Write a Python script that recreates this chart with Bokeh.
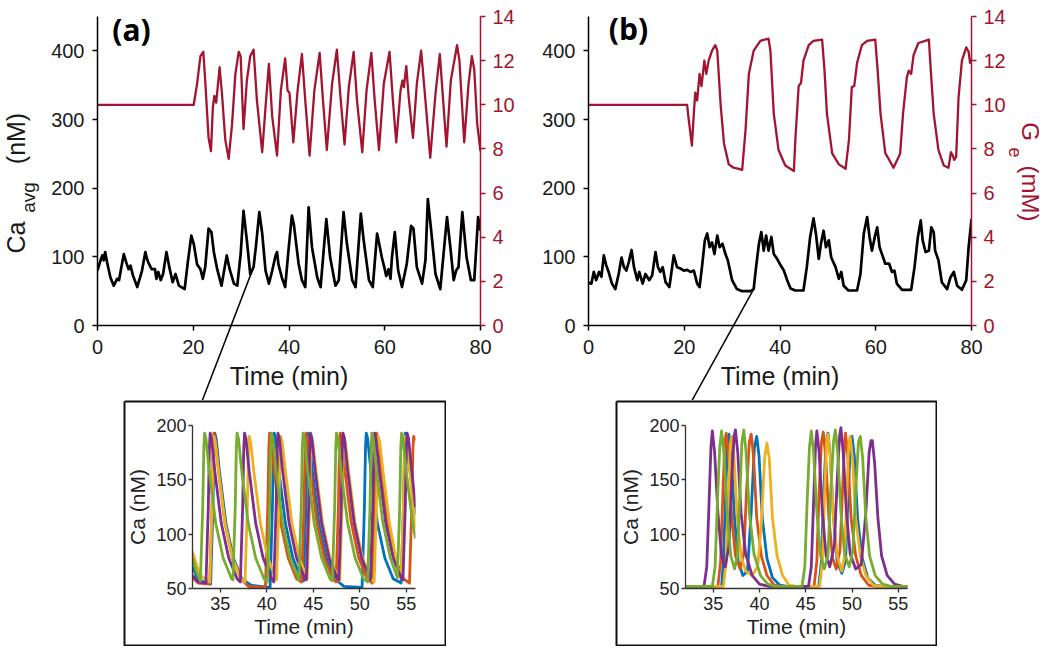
import math
from bokeh.plotting import figure
from bokeh.models import Range1d, LinearAxis, Spacer
from bokeh.core.properties import value
from bokeh.layouts import row, column
from bokeh.embed import file_html
from bokeh.resources import INLINE

FONT = "Liberation Sans"
RED = "#A2142F"
INK = "#1a1a1a"
SERIES_COLORS = ["#0072BD", "#D95319", "#EDB120", "#7E2F8E", "#77AC30"]

TIME_TICKS = [0, 20, 40, 60, 80]
CA_TICKS = [0, 100, 200, 300, 400]
GE_TICKS = [0, 2, 4, 6, 8, 10, 12, 14]
INSET_T_TICKS = [35, 40, 45, 50, 55]
INSET_CA_TICKS = [50, 100, 150, 200]

# ---------------- panel (a): average Ca (nM) vs time (min) ----------------
A_CA = [(0.0, 80), (0.5, 92), (1.0, 102), (1.3, 95), (1.6, 107), (2.0, 92), (2.7, 70), (3.4, 58),
        (4.1, 68), (4.5, 66), (4.8, 78), (5.5, 104), (6.0, 92), (6.5, 82), (6.9, 87), (7.4, 73),
        (8.3, 56), (9.3, 80), (10.0, 107), (10.3, 98), (10.6, 92), (11.3, 82), (12.0, 82), (12.3, 68),
        (12.7, 78), (13.2, 66), (13.7, 75), (14.4, 107), (15.0, 85), (15.7, 63), (16.3, 75), (17.0, 58),
        (18.2, 53), (18.9, 94), (19.6, 131), (20.1, 119), (20.8, 89), (21.5, 82), (22.0, 68), (22.5, 85),
        (23.2, 141), (23.8, 136), (24.3, 107), (25.0, 82), (25.9, 58), (27.0, 102), (27.6, 82), (28.5, 61),
        (29.2, 58), (29.9, 104), (30.5, 167), (31.2, 124), (31.9, 75), (32.6, 85), (33.1, 116), (33.8, 165),
        (34.4, 134), (35.1, 80), (35.8, 61), (36.5, 80), (37.2, 102), (37.5, 107), (37.8, 89), (38.5, 70),
        (39.2, 56), (39.9, 110), (40.6, 160), (41.0, 148), (42.0, 90), (42.7, 66), (43.4, 56), (44.1, 172),
        (44.8, 114), (45.9, 70), (46.6, 56), (47.3, 114), (47.8, 155), (48.6, 99), (49.7, 58), (50.4, 66),
        (51.4, 165), (52.1, 119), (53.2, 66), (53.9, 56), (55.0, 163), (55.6, 124), (56.7, 66), (57.5, 56),
        (58.4, 134), (58.9, 117), (59.4, 99), (60.0, 82), (60.3, 72), (60.8, 82), (61.2, 68), (61.5, 99),
        (62.1, 136), (62.8, 80), (63.6, 56), (64.6, 90), (65.5, 145), (66.0, 141), (66.7, 85), (67.8, 61),
        (68.5, 95), (69.0, 184), (69.7, 138), (70.6, 75), (71.6, 53), (73.0, 158), (73.7, 114), (74.4, 66),
        (74.9, 80), (75.4, 85), (76.2, 165), (77.1, 99), (78.0, 66), (78.7, 66), (79.5, 158), (80.0, 138)]

# panel (a): extracellular glucose G_e (mM) vs time (min)
A_GE = [(0, 10.0), (20.1, 10.0), (20.8, 10.95), (21.5, 12.2), (22.1, 12.4), (22.5, 11.1), (23.2, 8.5),
        (23.7, 7.9), (24.1, 9.9), (24.4, 10.4), (24.8, 10.1), (25.5, 11.7), (26.0, 10.5), (26.7, 8.4),
        (27.4, 7.55), (28.1, 9.1), (28.8, 11.4), (29.5, 12.4), (29.9, 12.2), (30.5, 8.9), (31.2, 11.1),
        (31.9, 12.2), (32.6, 12.5), (33.3, 10.2), (34.4, 7.85), (35.1, 9.9), (35.8, 11.85), (36.5, 9.45),
        (37.5, 7.7), (38.3, 10.65), (39.2, 12.1), (39.7, 10.65), (40.1, 10.55), (40.9, 8.3), (41.8, 10.65),
        (42.7, 12.3), (43.4, 10.2), (44.3, 7.7), (45.3, 10.65), (46.4, 12.35), (47.1, 10.2), (47.9, 7.95),
        (49.0, 10.95), (50.0, 12.5), (50.7, 10.5), (51.6, 8.2), (52.5, 10.8), (53.5, 12.4), (54.2, 10.2),
        (55.3, 7.85), (56.2, 10.65), (57.2, 12.35), (57.9, 10.2), (58.8, 7.95), (59.8, 10.95), (61.0, 12.4),
        (61.7, 10.2), (62.4, 8.3), (63.3, 10.65), (63.7, 11.1), (64.0, 10.8), (64.5, 11.75), (65.0, 10.35),
        (65.9, 8.5), (66.7, 10.95), (67.6, 12.45), (68.5, 10.2), (69.5, 7.6), (70.6, 10.5), (71.5, 12.3),
        (72.2, 10.2), (72.9, 8.1), (73.8, 11.1), (75.1, 12.7), (75.6, 12.0), (76.6, 8.3), (77.5, 10.95),
        (78.2, 12.2), (78.7, 11.6), (79.3, 9.15), (80.0, 7.9)]

# ---------------- panel (b) ----------------
B_CA = [(0.0, 62), (0.6, 61), (1.1, 78), (1.6, 66), (2.2, 78), (2.7, 71), (3.2, 102), (3.7, 88), (4.2, 78),
        (4.9, 61), (5.6, 53), (6.3, 75), (6.9, 99), (7.4, 85), (7.9, 80), (8.4, 92), (9.0, 110), (9.5, 85),
        (10.2, 66), (10.6, 78), (11.3, 61), (11.9, 75), (12.7, 66), (13.3, 73), (14.0, 107), (14.5, 85),
        (15.0, 78), (15.5, 85), (16.1, 63), (16.9, 56), (17.8, 102), (18.5, 85), (19.2, 83), (19.9, 80),
        (20.6, 81), (21.3, 78), (22.0, 80), (22.7, 61), (23.2, 56), (23.7, 85), (24.3, 124), (24.8, 134),
        (25.3, 114), (25.8, 121), (26.3, 104), (26.9, 131), (27.4, 114), (28.0, 119), (28.6, 104), (29.1, 95),
        (30.0, 66), (31.0, 53), (32.1, 50), (33.8, 50), (34.5, 53), (35.0, 85), (35.6, 119), (36.1, 136),
        (36.6, 109), (37.1, 131), (37.6, 109), (38.2, 129), (38.7, 104), (39.4, 97), (40.1, 88), (40.8, 80),
        (41.5, 66), (42.2, 54), (43.2, 51), (44.9, 51), (45.6, 85), (46.3, 129), (47.0, 156), (47.5, 134),
        (48.1, 97), (48.6, 121), (49.1, 138), (49.6, 114), (50.2, 124), (50.7, 99), (51.6, 85), (52.3, 68),
        (52.8, 78), (53.3, 58), (54.3, 51), (56.1, 51), (56.8, 75), (57.5, 134), (58.2, 158), (58.7, 129),
        (59.2, 109), (59.8, 129), (60.3, 143), (60.8, 114), (61.3, 104), (62.0, 90), (62.8, 90), (63.4, 78),
        (63.9, 80), (64.4, 61), (65.5, 52), (67.4, 52), (68.1, 85), (68.8, 129), (69.4, 153), (69.8, 124),
        (70.4, 107), (71.1, 109), (71.6, 143), (72.1, 136), (72.4, 109), (73.1, 95), (73.8, 63), (74.9, 53),
        (75.6, 70), (76.3, 78), (77.0, 58), (78.0, 52), (78.9, 66), (79.4, 114), (80.0, 155)]

B_GE = [(0, 10.0), (20.6, 10.0), (20.9, 9.4), (21.6, 8.15), (22.0, 9.6), (22.3, 10.55), (22.7, 10.2),
        (23.2, 11.4), (23.6, 10.85), (24.2, 12.0), (24.6, 11.4), (25.1, 12.0), (25.8, 12.45), (26.5, 12.7),
        (26.9, 12.45), (27.6, 10.0), (28.3, 8.25), (29.3, 7.3), (30.3, 7.15), (31.4, 7.1), (32.1, 7.05),
        (32.8, 8.85), (33.5, 11.4), (34.5, 12.45), (35.9, 12.9), (37.6, 13.0), (38.0, 12.45), (38.7, 9.6),
        (39.7, 7.95), (41.1, 7.25), (42.9, 7.0), (43.2, 8.4), (43.9, 10.85), (44.4, 11.0), (44.9, 12.0),
        (46.0, 12.7), (47.0, 12.9), (48.8, 12.95), (49.3, 11.55), (49.8, 9.6), (50.9, 7.8), (51.6, 7.55),
        (52.3, 7.3), (53.7, 7.1), (54.4, 8.4), (55.0, 10.8), (55.5, 10.85), (56.1, 11.9), (57.1, 12.7),
        (58.2, 12.9), (59.9, 12.95), (60.4, 11.55), (61.0, 9.6), (62.0, 7.8), (62.7, 7.55), (63.7, 7.15),
        (64.6, 7.55), (65.1, 7.8), (65.7, 9.6), (66.5, 11.25), (66.9, 11.55), (67.4, 11.4), (67.9, 12.25),
        (68.9, 12.8), (71.1, 12.95), (71.5, 11.55), (72.1, 9.6), (73.1, 7.95), (74.2, 7.25), (75.2, 7.15),
        (75.7, 7.85), (76.1, 7.7), (76.4, 7.5), (76.8, 7.65), (77.3, 10.35), (78.0, 12.0), (78.9, 12.6),
        (79.4, 12.4), (79.7, 11.9), (80.0, 12.1)]

# ---------------- inset (a): single-cell Ca (nM), five cells ----------------
IA_BLUE = [(32.0, 70), (32.6, 58), (33.95, 54), (34.2, 125), (34.32, 180), (34.4, 193), (34.55, 188), (34.9, 158),
           (35.6, 110), (36.4, 78), (37.3, 59), (38.3, 53), (40.35, 51), (40.6, 125), (40.72, 180), (40.8, 193),
           (40.95, 188), (41.3, 158), (42.0, 110), (42.8, 78), (43.7, 59), (43.95, 57), (44.2, 125), (44.32, 180),
           (44.4, 193), (44.55, 188), (44.9, 158), (45.6, 110), (46.4, 78), (47.3, 59), (48.3, 52), (50.25, 51),
           (50.5, 125), (50.62, 180), (50.7, 193), (50.85, 188), (51.2, 158), (51.9, 110), (52.7, 78), (53.6, 59),
           (54.45, 55), (54.7, 125), (54.82, 180), (54.9, 193), (55.05, 188), (55.4, 158), (56.0, 118)]
IA_ORANGE = [(32.0, 60), (32.6, 55), (33.85, 54), (34.1, 125), (34.22, 180), (34.3, 193), (34.45, 188), (34.8, 158),
             (35.5, 110), (36.3, 78), (37.2, 59), (38.0, 52), (39.85, 51), (40.1, 125), (40.22, 180), (40.3, 193),
             (40.45, 188), (40.8, 158), (41.5, 110), (42.3, 78), (43.2, 59), (43.75, 56), (44.0, 125), (44.12, 180),
             (44.2, 193), (44.35, 188), (44.7, 158), (45.4, 110), (46.2, 78), (47.1, 59), (47.45, 56), (47.7, 125),
             (47.82, 180), (47.9, 193), (48.05, 188), (48.4, 158), (49.1, 110), (49.9, 78), (50.8, 59), (51.35, 55),
             (51.6, 125), (51.72, 180), (51.8, 193), (51.95, 188), (52.3, 158), (53.0, 110), (53.8, 78), (54.7, 59),
             (55.35, 55), (55.6, 125), (55.72, 178), (55.8, 190), (55.95, 188), (56.0, 186)]
IA_YELLOW = [(32.0, 84), (32.5, 70), (33.0, 61), (33.85, 56), (34.1, 125), (34.22, 178), (34.3, 190), (34.45, 185),
             (34.8, 158), (35.5, 110), (36.3, 78), (37.2, 59), (37.65, 56), (37.9, 125), (38.02, 178), (38.1, 190),
             (38.25, 185), (38.6, 158), (39.3, 110), (40.1, 78), (41.0, 59), (41.05, 58), (41.3, 125), (41.42, 178),
             (41.5, 190), (41.65, 185), (42.0, 158), (42.7, 110), (43.5, 78), (44.35, 59), (44.6, 125), (44.72, 178),
             (44.8, 190), (44.95, 185), (45.3, 158), (46.0, 110), (46.8, 78), (47.7, 59), (47.85, 57), (48.1, 125),
             (48.22, 178), (48.3, 190), (48.45, 185), (48.8, 158), (49.5, 110), (50.3, 78), (51.2, 59), (51.55, 56),
             (51.8, 125), (51.92, 178), (52.0, 190), (52.15, 185), (52.5, 158), (53.2, 110), (54.0, 72), (54.45, 59),
             (54.7, 125), (54.82, 178), (54.9, 190), (55.05, 185), (55.4, 158), (56.0, 105)]
IA_PURPLE = [(32.0, 62), (32.6, 56), (33.45, 55), (33.7, 125), (33.82, 180), (33.9, 193), (34.05, 188), (34.4, 158),
             (35.1, 110), (35.9, 78), (36.8, 59), (37.15, 56), (37.4, 125), (37.52, 180), (37.6, 193), (37.75, 188),
             (38.1, 158), (38.8, 110), (39.6, 78), (40.5, 59), (40.75, 56), (41.0, 125), (41.12, 180), (41.2, 193),
             (41.35, 188), (41.7, 158), (42.4, 110), (43.2, 78), (44.1, 59), (44.25, 58), (44.5, 125), (44.62, 180),
             (44.7, 193), (44.85, 188), (45.2, 158), (45.9, 110), (46.7, 78), (47.6, 59), (47.75, 58), (48.0, 125),
             (48.12, 180), (48.2, 193), (48.35, 188), (48.7, 158), (49.4, 110), (50.2, 78), (51.1, 59), (51.15, 58),
             (51.4, 125), (51.52, 180), (51.6, 193), (51.75, 188), (52.1, 158), (52.8, 110), (53.6, 78), (54.5, 59),
             (54.65, 58), (54.9, 125), (55.02, 180), (55.1, 193), (55.25, 188), (55.6, 158), (56.0, 125)]
IA_GREEN = [(32.0, 78), (32.4, 66), (32.85, 57), (33.1, 125), (33.22, 180), (33.3, 193), (33.45, 188), (33.8, 158),
            (34.5, 110), (35.3, 78), (36.2, 59), (36.35, 58), (36.6, 125), (36.72, 180), (36.8, 193), (36.95, 188),
            (37.3, 158), (38.0, 110), (38.8, 78), (39.7, 59), (40.05, 56), (40.3, 125), (40.42, 180), (40.5, 193),
            (40.65, 188), (41.0, 158), (41.7, 110), (42.5, 78), (43.4, 59), (43.45, 58), (43.7, 125), (43.82, 180),
            (43.9, 193), (44.05, 188), (44.4, 158), (45.1, 110), (45.9, 78), (46.8, 59), (47.05, 57), (47.3, 125),
            (47.42, 180), (47.5, 193), (47.65, 188), (48.0, 158), (48.7, 110), (49.5, 78), (50.4, 59), (50.85, 56),
            (51.1, 125), (51.22, 180), (51.3, 193), (51.45, 188), (51.8, 158), (52.5, 110), (53.3, 78), (54.05, 60),
            (54.3, 125), (54.42, 180), (54.5, 193), (54.65, 188), (55.0, 158), (55.7, 110), (56.0, 96)]

# ---------------- inset (b) ----------------
IB_BLUE = [(32.0, 52), (35.9, 52), (36.1, 75), (36.35, 140), (36.55, 185), (36.7, 192), (36.95, 172), (37.3, 115),
           (37.7, 75), (38.2, 62), (38.7, 66), (39.1, 120), (39.45, 180), (39.7, 190), (39.95, 172), (40.3, 115),
           (40.8, 78), (41.4, 60), (42.2, 53), (43.0, 52), (46.4, 52), (46.7, 75), (46.95, 140), (47.2, 185),
           (47.4, 193), (47.65, 172), (48.0, 115), (48.4, 75), (48.9, 64), (49.3, 75), (49.6, 140), (49.85, 185),
           (50.0, 190), (50.25, 172), (50.6, 115), (51.1, 78), (51.7, 60), (52.5, 53), (53.3, 52), (56.0, 52)]
IB_ORANGE = [(32.0, 52), (35.5, 52), (35.8, 75), (36.05, 140), (36.25, 185), (36.4, 193), (36.65, 172), (37.0, 115),
             (37.4, 80), (37.9, 68), (38.3, 82), (38.6, 140), (38.9, 185), (39.1, 192), (39.35, 172), (39.7, 115),
             (40.2, 80), (40.8, 62), (41.6, 53), (42.4, 52), (45.9, 52), (46.2, 75), (46.45, 140), (46.7, 185),
             (46.9, 194), (47.15, 172), (47.5, 115), (47.9, 78), (48.3, 68), (48.7, 85), (49.0, 145), (49.2, 185),
             (49.3, 193), (49.55, 172), (49.9, 115), (50.4, 80), (51.0, 62), (51.8, 53), (52.7, 52), (56.0, 52)]
IB_YELLOW = [(32.0, 52), (36.1, 52), (36.4, 75), (36.65, 140), (36.85, 183), (37.0, 190), (37.25, 170), (37.6, 115),
             (38.0, 80), (38.5, 66), (39.2, 62), (39.8, 70), (40.2, 110), (40.55, 170), (40.8, 184), (41.05, 170),
             (41.4, 115), (41.9, 80), (42.5, 62), (43.2, 53), (44.0, 52), (46.5, 52), (46.8, 75), (47.05, 140),
             (47.25, 185), (47.4, 192), (47.65, 170), (48.0, 115), (48.4, 80), (48.9, 66), (49.2, 80), (49.45, 140),
             (49.65, 183), (49.8, 190), (50.05, 170), (50.4, 115), (50.9, 80), (51.5, 62), (52.3, 53), (53.1, 52),
             (56.0, 52)]
IB_PURPLE = [(32.0, 52), (34.0, 52), (34.3, 70), (34.55, 130), (34.75, 180), (34.9, 195), (35.15, 175), (35.5, 120),
             (35.9, 80), (36.3, 70), (36.7, 90), (37.0, 150), (37.25, 190), (37.4, 196), (37.65, 175), (38.0, 120),
             (38.5, 82), (39.2, 62), (40.0, 54), (41.0, 52), (45.3, 52), (45.6, 70), (45.85, 130), (46.05, 180),
             (46.2, 195), (46.45, 175), (46.8, 120), (47.2, 80), (47.6, 70), (48.1, 90), (48.4, 150), (48.65, 190),
             (48.8, 198), (49.05, 175), (49.4, 120), (49.8, 82), (50.4, 68), (51.0, 72), (51.5, 120), (51.85, 175),
             (52.05, 186), (52.2, 186), (52.45, 165), (52.8, 115), (53.2, 80), (53.8, 62), (54.6, 54), (55.5, 52),
             (56.0, 52)]
IB_GREEN = [(32.0, 52), (34.9, 52), (35.2, 70), (35.45, 130), (35.7, 180), (35.9, 195), (36.15, 175), (36.5, 120),
            (36.9, 80), (37.3, 68), (37.6, 80), (37.9, 140), (38.1, 185), (38.3, 196), (38.55, 175), (38.9, 120),
            (39.4, 82), (40.1, 62), (40.9, 54), (41.8, 52), (44.6, 52), (44.9, 70), (45.15, 130), (45.4, 180),
            (45.6, 195), (45.85, 175), (46.2, 120), (46.6, 80), (47.0, 68), (47.4, 80), (47.7, 140), (48.0, 185),
            (48.2, 196), (48.45, 175), (48.8, 120), (49.2, 82), (49.7, 70), (50.1, 85), (50.4, 140), (50.7, 185),
            (50.9, 190), (51.15, 170), (51.5, 115), (51.9, 80), (52.5, 62), (53.3, 54), (54.2, 52), (56.0, 52)]

# start of the zoomed window marked on each main trace (time, Ca)
ZOOM_A = (32.6, 85)
ZOOM_B = (34.5, 53)


def unzip(pairs):
    return [q[0] for q in pairs], [q[1] for q in pairs]


def style_axis(ax, color, label_color, size, tick_out=5, width=1.5):
    ax.axis_line_color = color
    ax.axis_line_width = width
    ax.major_tick_line_color = color
    ax.major_tick_line_width = width
    ax.major_tick_out = tick_out
    ax.major_tick_in = 0
    ax.minor_tick_line_color = None
    ax.major_label_text_color = label_color
    ax.major_label_text_font = FONT
    ax.major_label_text_font_size = size
    ax.axis_label_text_font = FONT
    ax.axis_label_text_font_style = "normal"
    ax.axis_label_text_color = label_color


# main panel geometry (page pixels)
TOP_H = 400
FRAME_TOP, FRAME_BOTTOM, FRAME_W = 16, 325, 383


def overlay_text(p, xs, ys, texts, sizes, color, angle, font=FONT, style="normal"):
    for x, y, t, s in zip(xs, ys, texts, sizes):
        p.text(x=[x], y=[y], text=[t], angle=angle, text_font=value(font), text_font_size=value(s),
               text_font_style=style, text_color=color, text_align="center", text_baseline="middle",
               level="overlay")


def main_panel(ca_pairs, ge_pairs, width, left, right, tag, tag_px, zoom, link_px, page_left, ge_label):
    p = figure(width=width, height=TOP_H, min_border_left=left, min_border_right=right,
               min_border_top=FRAME_TOP, min_border_bottom=TOP_H - FRAME_BOTTOM,
               x_range=Range1d(0, 80), y_range=Range1d(0, 450),
               toolbar_location=None, output_backend="svg")
    p.outline_line_color = None
    p.grid.visible = False
    p.extra_y_ranges = {"ge": Range1d(0, 14)}

    fx = lambda px: (px - page_left) * 80.0 / FRAME_W
    fy = lambda py: (FRAME_BOTTOM - py) * 450.0 / (FRAME_BOTTOM - FRAME_TOP)

    p.xaxis.ticker = TIME_TICKS
    p.yaxis.ticker = CA_TICKS
    style_axis(p.xaxis[0], "black", INK, "20px")
    style_axis(p.yaxis[0], "black", INK, "20px")
    p.xaxis.major_label_standoff = 9
    p.yaxis.major_label_standoff = 8
    p.xaxis.axis_label = "Time (min)"
    p.xaxis.axis_label_text_font_size = "25px"
    p.xaxis.axis_label_standoff = 5

    rax = LinearAxis(y_range_name="ge", ticker=GE_TICKS)
    style_axis(rax, RED, RED, "20px")
    rax.major_label_standoff = 7
    p.add_layout(rax, "right")

    gt, gv = unzip(ge_pairs)
    p.line(gt, gv, y_range_name="ge", line_color=RED, line_width=2.3, line_join="round")
    ct, cv = unzip(ca_pairs)
    p.line(ct, cv, line_color="black", line_width=2.7, line_join="round")

    # link to the zoomed inset
    p.line([zoom[0], fx(link_px[0])], [zoom[1], fy(link_px[1])], line_color="black",
           line_width=1.5, level="overlay")

    overlay_text(p, [fx(tag_px[0])], [fy(tag_px[1])], [tag], ["30px"], "black", 0,
                 font="Open Sans", style="bold")

    if ge_label:
        pos = [(1030, 131), (1015, 152), (1030, 193)]
        overlay_text(p, [fx(a) for a, b in pos], [fy(b) for a, b in pos], ["G", "e", "(mM)"],
                     ["24px", "18px", "24px"], RED, -math.pi / 2)
    else:
        pos = [(15, 237), (28, 197), (15, 138)]
        overlay_text(p, [fx(a) for a, b in pos], [fy(b) for a, b in pos], ["Ca", "avg", "(nM)"],
                     ["25px", "19px", "25px"], INK, math.pi / 2)
    return p


IN_H, IN_TOP, IN_BOTTOM = 246, 25, 58


def inset_panel(series, width, left, right):
    q = figure(width=width, height=IN_H, min_border_left=left, min_border_right=right,
               min_border_top=IN_TOP, min_border_bottom=IN_BOTTOM,
               x_range=Range1d(32, 56), y_range=Range1d(50, 200),
               toolbar_location=None, output_backend="svg")
    q.outline_line_color = None
    q.grid.visible = False
    q.xaxis.ticker = INSET_T_TICKS
    q.yaxis.ticker = INSET_CA_TICKS
    style_axis(q.xaxis[0], "#333333", "#222222", "18px", tick_out=4, width=1.3)
    style_axis(q.yaxis[0], "#333333", "#222222", "18px", tick_out=4, width=1.3)
    q.xaxis.major_label_standoff = 4
    q.yaxis.major_label_standoff = 2
    q.xaxis.axis_label = "Time (min)"
    q.yaxis.axis_label = "Ca (nM)"
    q.xaxis.axis_label_text_font_size = "21px"
    q.yaxis.axis_label_text_font_size = "21px"
    q.xaxis.axis_label_standoff = 2
    q.yaxis.axis_label_standoff = 4
    for pairs, col in zip(series, SERIES_COLORS):
        t, v = unzip(pairs)
        q.line(t, v, line_color=col, line_width=2.8, line_join="round")

    # surrounding box of the inset (figure edges, mapped into data space)
    fw = width - left - right
    fh = IN_H - IN_TOP - IN_BOTTOM
    ix = lambda px: 32 + (px - left) * 24.0 / fw
    iy = lambda py: 200 - (py - IN_TOP) * 150.0 / fh
    x0, x1, y0, y1 = ix(1), ix(width - 1), iy(1), iy(IN_H - 1)
    q.line([x0, x1, x1, x0, x0], [y0, y0, y1, y1, y0], line_color="#111111", line_width=2,
           level="overlay")
    return q


pa = main_panel(A_CA, A_GE, 522, 97, 42, "(a)", (131, 29), ZOOM_A, (201.8, 400), 97, False)
pb = main_panel(B_CA, B_GE, 523, 66, 74, "(b)", (628, 28), ZOOM_B, (691.5, 400), 588, True)

ia = inset_panel([IA_BLUE, IA_ORANGE, IA_YELLOW, IA_PURPLE, IA_GREEN], 323, 69, 31)
ib = inset_panel([IB_BLUE, IB_ORANGE, IB_YELLOW, IB_PURPLE, IB_GREEN], 322, 70, 30)

layout = column(row(pa, pb),
                row(Spacer(width=123, height=IN_H), ia, Spacer(width=169, height=IN_H), ib))

open("out.html", "w").write(file_html(layout, INLINE))
